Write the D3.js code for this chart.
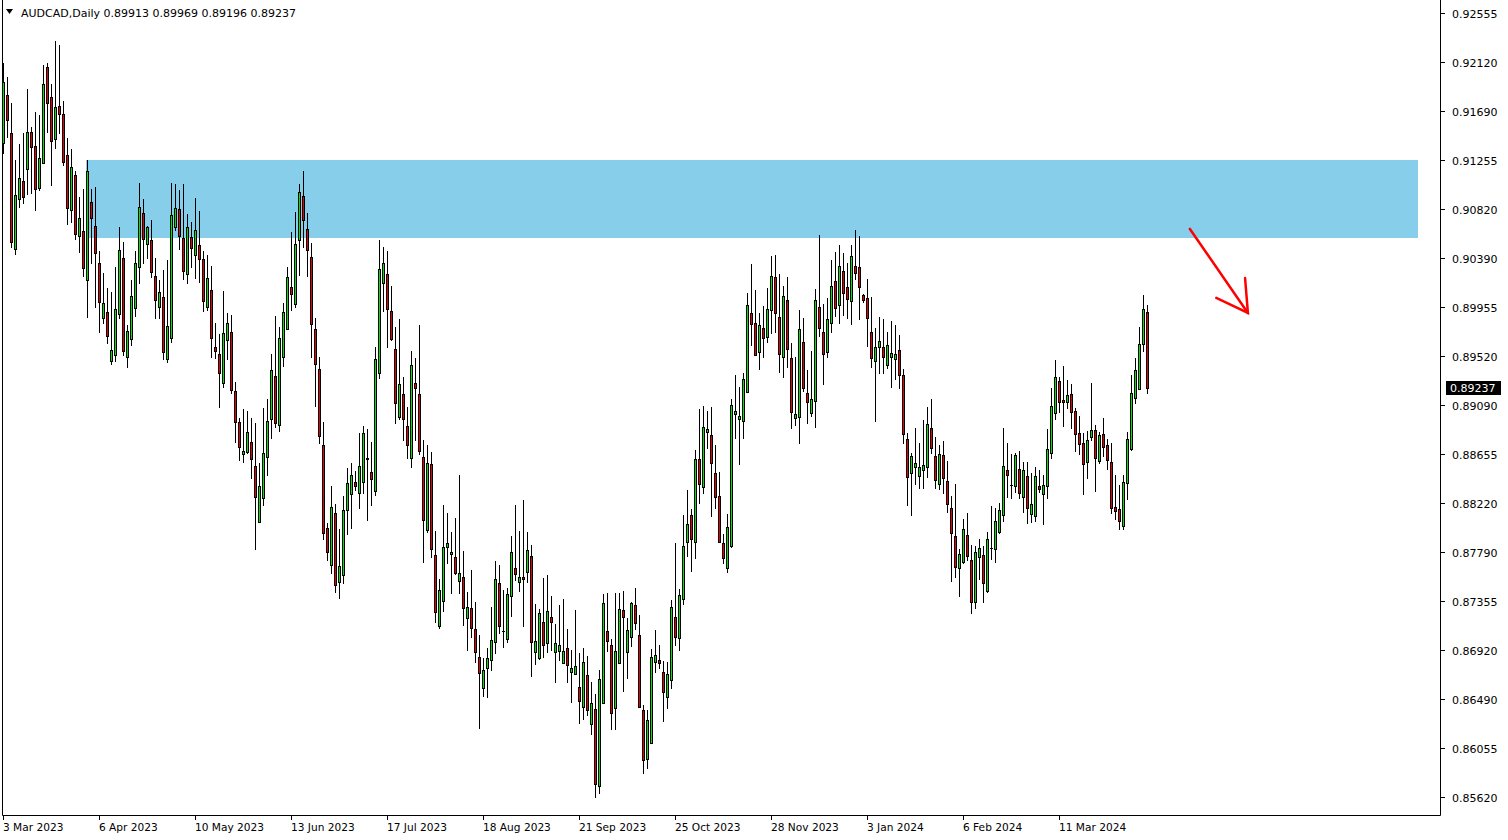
<!DOCTYPE html>
<html><head><meta charset="utf-8">
<script src="https://cdn.jsdelivr.net/npm/d3@7"></script>
<style>
html,body{margin:0;padding:0;background:#fff;}
svg{display:block;}
text{font-family:"DejaVu Sans",sans-serif;}
</style></head>
<body><svg id="c" width="1508" height="840"></svg>
<script>
const symbolTitle = "AUDCAD,Daily";
const open = [0.91405,0.91830,0.91494,0.90468,0.90910,0.91069,0.91175,0.91503,0.91379,0.91007,0.91228,0.92077,0.91812,0.91441,0.91732,0.91662,0.91299,0.90813,0.91122,0.90583,0.90627,0.90193,0.90883,0.90671,0.90344,0.89857,0.89910,0.89477,0.89530,0.89893,0.90388,0.89512,0.89672,0.89946,0.90308,0.90786,0.90512,0.90547,0.90229,0.89955,0.90043,0.89495,0.89680,0.90662,0.90821,0.90565,0.90247,0.90574,0.90415,0.90503,0.90379,0.89955,0.90105,0.89601,0.89539,0.89282,0.89663,0.89734,0.89212,0.88937,0.88654,0.88672,0.88761,0.88548,0.88053,0.88265,0.88628,0.88964,0.89344,0.88911,0.89512,0.89760,0.90132,0.89981,0.90547,0.90936,0.90645,0.90397,0.89760,0.89406,0.88734,0.88000,0.87673,0.88133,0.87522,0.87584,0.88159,0.88301,0.88407,0.88310,0.88407,0.88610,0.88495,0.88327,0.89371,0.90167,0.90247,0.89919,0.89583,0.88982,0.89185,0.88902,0.88619,0.89282,0.89185,0.88628,0.87982,0.88566,0.87761,0.87133,0.87354,0.87832,0.87770,0.87743,0.87531,0.87567,0.87204,0.87292,0.87107,0.86859,0.86585,0.86762,0.86832,0.86992,0.87513,0.87089,0.87018,0.87398,0.87646,0.87522,0.87567,0.87611,0.87752,0.86903,0.86850,0.87168,0.86983,0.87213,0.86903,0.86912,0.86806,0.86938,0.86726,0.86709,0.86594,0.86417,0.86700,0.86266,0.86399,0.85718,0.86452,0.87089,0.86965,0.86408,0.86806,0.87275,0.86903,0.87036,0.87319,0.87054,0.86390,0.85957,0.86098,0.86815,0.86832,0.86726,0.86505,0.86655,0.87213,0.87027,0.87372,0.87876,0.88115,0.87876,0.88610,0.88363,0.88849,0.88823,0.88486,0.88283,0.87867,0.87646,0.87841,0.89008,0.88964,0.88946,0.89203,0.89902,0.89813,0.89557,0.89769,0.89689,0.89928,0.90220,0.89866,0.89512,0.90017,0.89504,0.88973,0.88982,0.89645,0.89194,0.89017,0.89123,0.89955,0.89734,0.89557,0.89813,0.90185,0.89972,0.90273,0.90132,0.90008,0.90317,0.90308,0.90061,0.90034,0.89734,0.89477,0.89601,0.89601,0.89442,0.89512,0.89495,0.89574,0.89353,0.88787,0.88486,0.88539,0.88460,0.88513,0.88539,0.88884,0.88637,0.88389,0.88645,0.88416,0.88177,0.87929,0.87646,0.87699,0.87938,0.87717,0.87345,0.87743,0.87761,0.87443,0.87823,0.87814,0.87965,0.88115,0.88513,0.88380,0.88371,0.88522,0.88274,0.88460,0.88124,0.88106,0.88371,0.88301,0.88371,0.88663,0.89017,0.89301,0.89132,0.89114,0.89185,0.89035,0.88840,0.88752,0.88584,0.88805,0.88867,0.88593,0.88831,0.88734,0.88584,0.88186,0.88168,0.88018,0.88398,0.88699,0.89150,0.89229,0.89627,0.89913];
const high = [0.92113,0.91989,0.91759,0.91255,0.91396,0.91494,0.91883,0.91547,0.91679,0.91653,0.92095,0.92113,0.91927,0.92307,0.92272,0.91777,0.91449,0.91352,0.91158,0.90928,0.90998,0.91255,0.90998,0.91016,0.90450,0.90255,0.90123,0.90087,0.90308,0.90662,0.90530,0.89795,0.90193,0.90450,0.91051,0.90910,0.90671,0.90724,0.90388,0.90193,0.90282,0.90370,0.91051,0.91043,0.90990,0.91043,0.90777,0.90706,0.90919,0.90804,0.90450,0.90415,0.90317,0.89813,0.89716,0.90096,0.89902,0.89884,0.89291,0.88973,0.89052,0.89035,0.88973,0.88929,0.88575,0.89061,0.89141,0.89539,0.89875,0.89778,0.89990,0.90308,0.90618,0.90795,0.91043,0.91158,0.90786,0.90521,0.89857,0.89512,0.88937,0.88044,0.88371,0.88212,0.87991,0.88283,0.88531,0.88575,0.88504,0.88840,0.88902,0.88876,0.88761,0.89601,0.90547,0.90485,0.90450,0.90140,0.89778,0.89849,0.89336,0.89070,0.89566,0.89504,0.89795,0.88778,0.88734,0.88672,0.87973,0.87549,0.88203,0.88133,0.87965,0.88088,0.88469,0.87797,0.87434,0.87628,0.87345,0.87054,0.86850,0.86938,0.87301,0.87708,0.87673,0.87452,0.87469,0.87929,0.88203,0.87973,0.88248,0.87965,0.87850,0.87328,0.87283,0.87558,0.87584,0.87398,0.87151,0.87319,0.87372,0.87107,0.86921,0.87275,0.86894,0.86938,0.86868,0.86638,0.86532,0.86744,0.87416,0.87425,0.87018,0.87425,0.87425,0.87443,0.87204,0.87345,0.87469,0.87230,0.86434,0.86390,0.86930,0.87098,0.86965,0.86824,0.86815,0.87363,0.87867,0.87460,0.88115,0.88336,0.88168,0.88690,0.89052,0.89079,0.89035,0.89070,0.88734,0.88495,0.87947,0.88124,0.89141,0.89353,0.89247,0.89371,0.90079,0.90335,0.90105,0.89902,0.89963,0.90123,0.90406,0.90415,0.90247,0.90140,0.90220,0.89636,0.89512,0.89928,0.89857,0.89397,0.89566,0.90114,0.90592,0.89981,0.90034,0.90370,0.90441,0.90503,0.90432,0.90344,0.90503,0.90636,0.90583,0.90070,0.90202,0.90043,0.89769,0.89866,0.89849,0.89734,0.89831,0.89795,0.89707,0.89406,0.88840,0.88663,0.88884,0.88752,0.88955,0.89070,0.89141,0.88805,0.88734,0.88769,0.88593,0.88283,0.88389,0.87814,0.88080,0.88133,0.87850,0.87841,0.87903,0.87841,0.87965,0.88194,0.88177,0.88221,0.88884,0.88752,0.88654,0.88663,0.88681,0.88584,0.88584,0.88486,0.88539,0.88513,0.88469,0.88876,0.89238,0.89486,0.89336,0.89433,0.89309,0.89274,0.89061,0.88991,0.88840,0.88858,0.89282,0.88911,0.88849,0.88973,0.88787,0.88752,0.88469,0.88380,0.88469,0.88849,0.89353,0.89504,0.89778,0.90061,0.89969];
const low = [0.91317,0.91458,0.90485,0.90423,0.90839,0.90875,0.90954,0.90963,0.90813,0.90990,0.91228,0.91503,0.91034,0.91361,0.91494,0.91211,0.90689,0.90706,0.90556,0.90441,0.90229,0.89866,0.90344,0.89955,0.89734,0.89813,0.89636,0.89450,0.89477,0.89857,0.89530,0.89424,0.89619,0.89875,0.90167,0.90344,0.90388,0.90220,0.89857,0.89857,0.89495,0.89468,0.89645,0.90636,0.90468,0.90202,0.90167,0.90308,0.90211,0.90176,0.89919,0.89928,0.89512,0.89504,0.89070,0.89247,0.89495,0.89194,0.88761,0.88601,0.88584,0.88663,0.88442,0.87814,0.88053,0.88203,0.88469,0.88796,0.88893,0.88858,0.89433,0.89760,0.89928,0.89955,0.90238,0.90485,0.90229,0.89512,0.89079,0.88752,0.87903,0.87717,0.87602,0.87434,0.87381,0.87513,0.87947,0.88000,0.88336,0.88177,0.88310,0.88071,0.88203,0.88292,0.89327,0.89919,0.89601,0.89663,0.88929,0.88964,0.88778,0.88619,0.88539,0.88778,0.88654,0.87699,0.87965,0.87743,0.87168,0.87115,0.87266,0.87690,0.87425,0.87593,0.87425,0.87142,0.86921,0.87036,0.86815,0.86231,0.86514,0.86505,0.86744,0.86894,0.87071,0.86947,0.86992,0.87222,0.87540,0.87443,0.87133,0.87522,0.86691,0.86797,0.86841,0.86859,0.86903,0.86921,0.86638,0.86832,0.86806,0.86638,0.86461,0.86709,0.86275,0.86311,0.86346,0.86178,0.85621,0.85656,0.86452,0.86912,0.86222,0.86222,0.86806,0.86558,0.86673,0.86956,0.87107,0.86417,0.85833,0.85877,0.86098,0.86726,0.86762,0.86293,0.86408,0.86585,0.86965,0.86921,0.87328,0.87752,0.87620,0.87735,0.88221,0.88310,0.88707,0.88106,0.88177,0.87876,0.87690,0.87611,0.87832,0.88796,0.88566,0.88796,0.89203,0.89619,0.89530,0.89406,0.89512,0.89645,0.89725,0.89734,0.89380,0.89336,0.89424,0.88884,0.88911,0.88752,0.89212,0.88929,0.88991,0.88893,0.89698,0.89274,0.89512,0.89734,0.89875,0.89813,0.89884,0.89857,0.89804,0.90202,0.89849,0.89999,0.89610,0.89424,0.88946,0.89371,0.89371,0.89415,0.89247,0.89318,0.89238,0.88752,0.88203,0.88115,0.88389,0.88354,0.88354,0.88451,0.88663,0.88354,0.88345,0.88310,0.88141,0.87531,0.87567,0.87398,0.87690,0.87717,0.87248,0.87292,0.87549,0.87345,0.87434,0.87726,0.87699,0.87956,0.88062,0.88274,0.88265,0.88318,0.88265,0.88141,0.88044,0.88053,0.88062,0.88318,0.88035,0.88265,0.88619,0.88964,0.89026,0.88902,0.89061,0.88884,0.88681,0.88654,0.88301,0.88442,0.88778,0.88327,0.88575,0.88637,0.88522,0.88133,0.88080,0.87991,0.87991,0.88256,0.88690,0.89106,0.89229,0.89566,0.89196];
const close = [0.91945,0.91609,0.90530,0.90945,0.91096,0.90928,0.91503,0.91370,0.90998,0.91273,0.91927,0.91759,0.91423,0.91724,0.91662,0.91237,0.90830,0.91193,0.90600,0.90742,0.90300,0.91158,0.90742,0.90432,0.89999,0.89990,0.89698,0.89574,0.89937,0.90459,0.89566,0.89742,0.90052,0.90344,0.90839,0.90556,0.90662,0.90264,0.90017,0.90087,0.89557,0.89787,0.90768,0.90830,0.90583,0.90273,0.90662,0.90476,0.90636,0.90379,0.90008,0.90211,0.89680,0.89566,0.89371,0.89725,0.89813,0.89221,0.88937,0.88716,0.88681,0.88849,0.88610,0.88274,0.88371,0.88663,0.88946,0.89397,0.88929,0.89680,0.89910,0.90220,0.90070,0.90512,0.90972,0.90724,0.90459,0.89804,0.89450,0.88814,0.87956,0.87788,0.88186,0.87496,0.87664,0.88159,0.88398,0.88469,0.88371,0.88548,0.88840,0.88619,0.88433,0.89495,0.90291,0.90344,0.89937,0.89672,0.89106,0.89274,0.88964,0.88734,0.89442,0.89238,0.88681,0.88071,0.88575,0.87814,0.87257,0.87452,0.87832,0.87867,0.87788,0.87602,0.87602,0.87292,0.87301,0.87115,0.86903,0.86717,0.86744,0.86850,0.87009,0.87549,0.87133,0.87089,0.87416,0.87788,0.87593,0.87567,0.87549,0.87805,0.86992,0.87000,0.87248,0.86965,0.87266,0.87168,0.86983,0.86965,0.86912,0.86788,0.86762,0.86779,0.86470,0.86815,0.86390,0.86452,0.85736,0.86664,0.87337,0.87000,0.86364,0.86912,0.87283,0.87213,0.87098,0.87337,0.87160,0.86417,0.85948,0.86302,0.86859,0.86877,0.86806,0.86549,0.86709,0.87301,0.87036,0.87407,0.87841,0.88035,0.87903,0.88610,0.88389,0.88893,0.88876,0.88575,0.88274,0.87876,0.87735,0.88009,0.89088,0.89035,0.88991,0.89318,0.89972,0.89804,0.89530,0.89795,0.89680,0.89937,0.90229,0.89902,0.89539,0.90052,0.89583,0.89026,0.89008,0.89760,0.89238,0.89114,0.89141,0.90017,0.89769,0.89539,0.89849,0.90140,0.89946,0.90317,0.90079,0.90025,0.90406,0.90255,0.90132,0.90017,0.89857,0.89504,0.89601,0.89654,0.89512,0.89619,0.89548,0.89539,0.89353,0.88831,0.88451,0.88637,0.88575,0.88539,0.88557,0.88920,0.88707,0.88424,0.88654,0.88442,0.88212,0.87956,0.87655,0.87770,0.87991,0.87752,0.87345,0.87788,0.87823,0.87513,0.87903,0.87823,0.88062,0.88159,0.88548,0.88469,0.88380,0.88645,0.88310,0.88513,0.88177,0.88212,0.88460,0.88345,0.88380,0.88699,0.89079,0.89336,0.89114,0.89114,0.89176,0.89026,0.88831,0.88743,0.88566,0.88778,0.88867,0.88619,0.88823,0.88716,0.88601,0.88177,0.88150,0.88062,0.88407,0.88787,0.89194,0.89397,0.89627,0.89937,0.89237];

const priceTicks = [0.92555,0.92120,0.91690,0.91255,0.90820,0.90390,0.89955,0.89520,0.89090,0.88655,0.88220,0.87790,0.87355,0.86920,0.86490,0.86055,0.85620];
const dateTickLabels = ["3 Mar 2023","6 Apr 2023","10 May 2023","13 Jun 2023","17 Jul 2023","18 Aug 2023","21 Sep 2023","25 Oct 2023","28 Nov 2023","3 Jan 2024","6 Feb 2024","11 Mar 2024"];
const firstDate = "2023-03-03";
const holidays = ["2023-12-25","2024-01-01"];
const zoneTop = 0.91255, zoneBottom = 0.90566, zoneStart = 20.625, zoneEnd = 353.625;
const arrowFrom = [296.6, 0.90645], arrowTo = [311.1, 0.89902];

// build trading dates (weekdays, minus holidays)
const fmt = d3.utcFormat("%-d %b %Y"), iso = d3.utcFormat("%Y-%m-%d");
const dates = [];
let d = new Date(firstDate + "T00:00:00Z");
while (dates.length < open.length) {
  const wd = d.getUTCDay();
  if (wd !== 0 && wd !== 6 && !holidays.includes(iso(d))) dates.push(new Date(d));
  d = new Date(d.getTime() + 86400000);
}
const bars = dates.map((dt, i) => ({i, date: dt, o: open[i], h: high[i], l: low[i], c: close[i]}));

const W = 1508, H = 840;
const plotR = 1440, plotB = 815;
const svg = d3.select("#c");
const x = d3.scaleLinear().domain([0, 359]).range([3.5, 1439.5]);
const y = d3.scaleLinear().domain([0.85620, 0.92555]).range([797, 13]);

svg.append("rect").attr("width", W).attr("height", H).attr("fill", "#fff");

// zone
svg.append("rect")
  .attr("x", Math.round(x(zoneStart))).attr("y", Math.round(y(zoneTop)))
  .attr("width", Math.round(x(zoneEnd)) - Math.round(x(zoneStart)))
  .attr("height", Math.round(y(zoneBottom)) - Math.round(y(zoneTop)))
  .attr("fill", "#87CEEB");

// candles
const g = svg.append("g");
bars.forEach(b => {
  const cx = Math.floor(x(b.i));
  g.append("line").attr("x1", cx + 0.5).attr("x2", cx + 0.5)
    .attr("y1", Math.round(y(b.h))).attr("y2", Math.round(y(b.l)) + 1)
    .attr("stroke", "#000").attr("stroke-width", 1);
  const t = Math.round(y(Math.max(b.o, b.c))), bt = Math.round(y(Math.min(b.o, b.c)));
  if (bt - t < 1) {
    g.append("line").attr("x1", cx - 1).attr("x2", cx + 2).attr("y1", t + 0.5).attr("y2", t + 0.5)
      .attr("stroke", "#000").attr("stroke-width", 1);
  } else {
    g.append("rect").attr("x", cx - 0.5).attr("y", t + 0.5).attr("width", 2).attr("height", bt - t)
      .attr("fill", b.c >= b.o ? "#00E600" : "#E60000").attr("stroke", "#000").attr("stroke-width", 1);
  }
});

// arrow
const ax1 = x(arrowFrom[0]), ay1 = y(arrowFrom[1]), ax2 = x(arrowTo[0]), ay2 = y(arrowTo[1]);
const ang = Math.atan2(ay2 - ay1, ax2 - ax1), hl = 35, ha = Math.PI / 6;
const arrowG = svg.append("g").attr("stroke", "#FF0000").attr("stroke-width", 2.5).attr("stroke-linecap", "round").attr("fill", "none");
arrowG.append("line").attr("x1", ax1).attr("y1", ay1).attr("x2", ax2).attr("y2", ay2);
arrowG.append("polyline").attr("points", [
  [ax2 - hl * Math.cos(ang - ha), ay2 - hl * Math.sin(ang - ha)],
  [ax2, ay2],
  [ax2 - hl * Math.cos(ang + ha), ay2 - hl * Math.sin(ang + ha)]
].map(p => p.join(",")).join(" "));

// frame
svg.append("path").attr("d", `M2.5,0V${plotB + 0.5}H${plotR + 0.5}V0`).attr("fill", "none").attr("stroke", "#000");

// price axis
const pa = svg.append("g");
priceTicks.forEach(p => {
  const yy = Math.round(y(p)) + 0.5;
  pa.append("line").attr("x1", plotR + 1).attr("x2", plotR + 5).attr("y1", yy).attr("y2", yy).attr("stroke", "#000");
  pa.append("text").attr("x", 1452).attr("y", yy + 4).attr("font-size", 11).attr("fill", "#000").text(p.toFixed(5));
});
// current price label
const lastC = close[close.length - 1];
const ly = Math.round(y(lastC));
pa.append("rect").attr("x", 1446).attr("y", ly - 7).attr("width", 55).attr("height", 14).attr("fill", "#000");
pa.append("text").attr("x", 1450).attr("y", ly + 4).attr("font-size", 11).attr("fill", "#fff").text(lastC.toFixed(5));

// date axis
const ta = svg.append("g");
dateTickLabels.forEach(lbl => {
  const i = dates.findIndex(dt => fmt(dt) === lbl);
  if (i < 0) return;
  const xx = Math.floor(x(i)) + 0.5;
  ta.append("line").attr("x1", xx).attr("x2", xx).attr("y1", plotB).attr("y2", plotB + 5).attr("stroke", "#000");
  ta.append("text").attr("x", xx - 0.5).attr("y", 831).attr("font-size", 10.6).attr("fill", "#000").text(lbl);
});

// header
svg.append("path").attr("d", "M6,9H13L9.5,14Z").attr("fill", "#000");
svg.append("text").attr("x", 21).attr("y", 17).attr("font-size", 11).attr("fill", "#000")
  .text(`${symbolTitle}  ${open[open.length-1].toFixed(5)} ${high[high.length-1].toFixed(5)} ${low[low.length-1].toFixed(5)} ${close[close.length-1].toFixed(5)}`);
</script>
</body></html>
